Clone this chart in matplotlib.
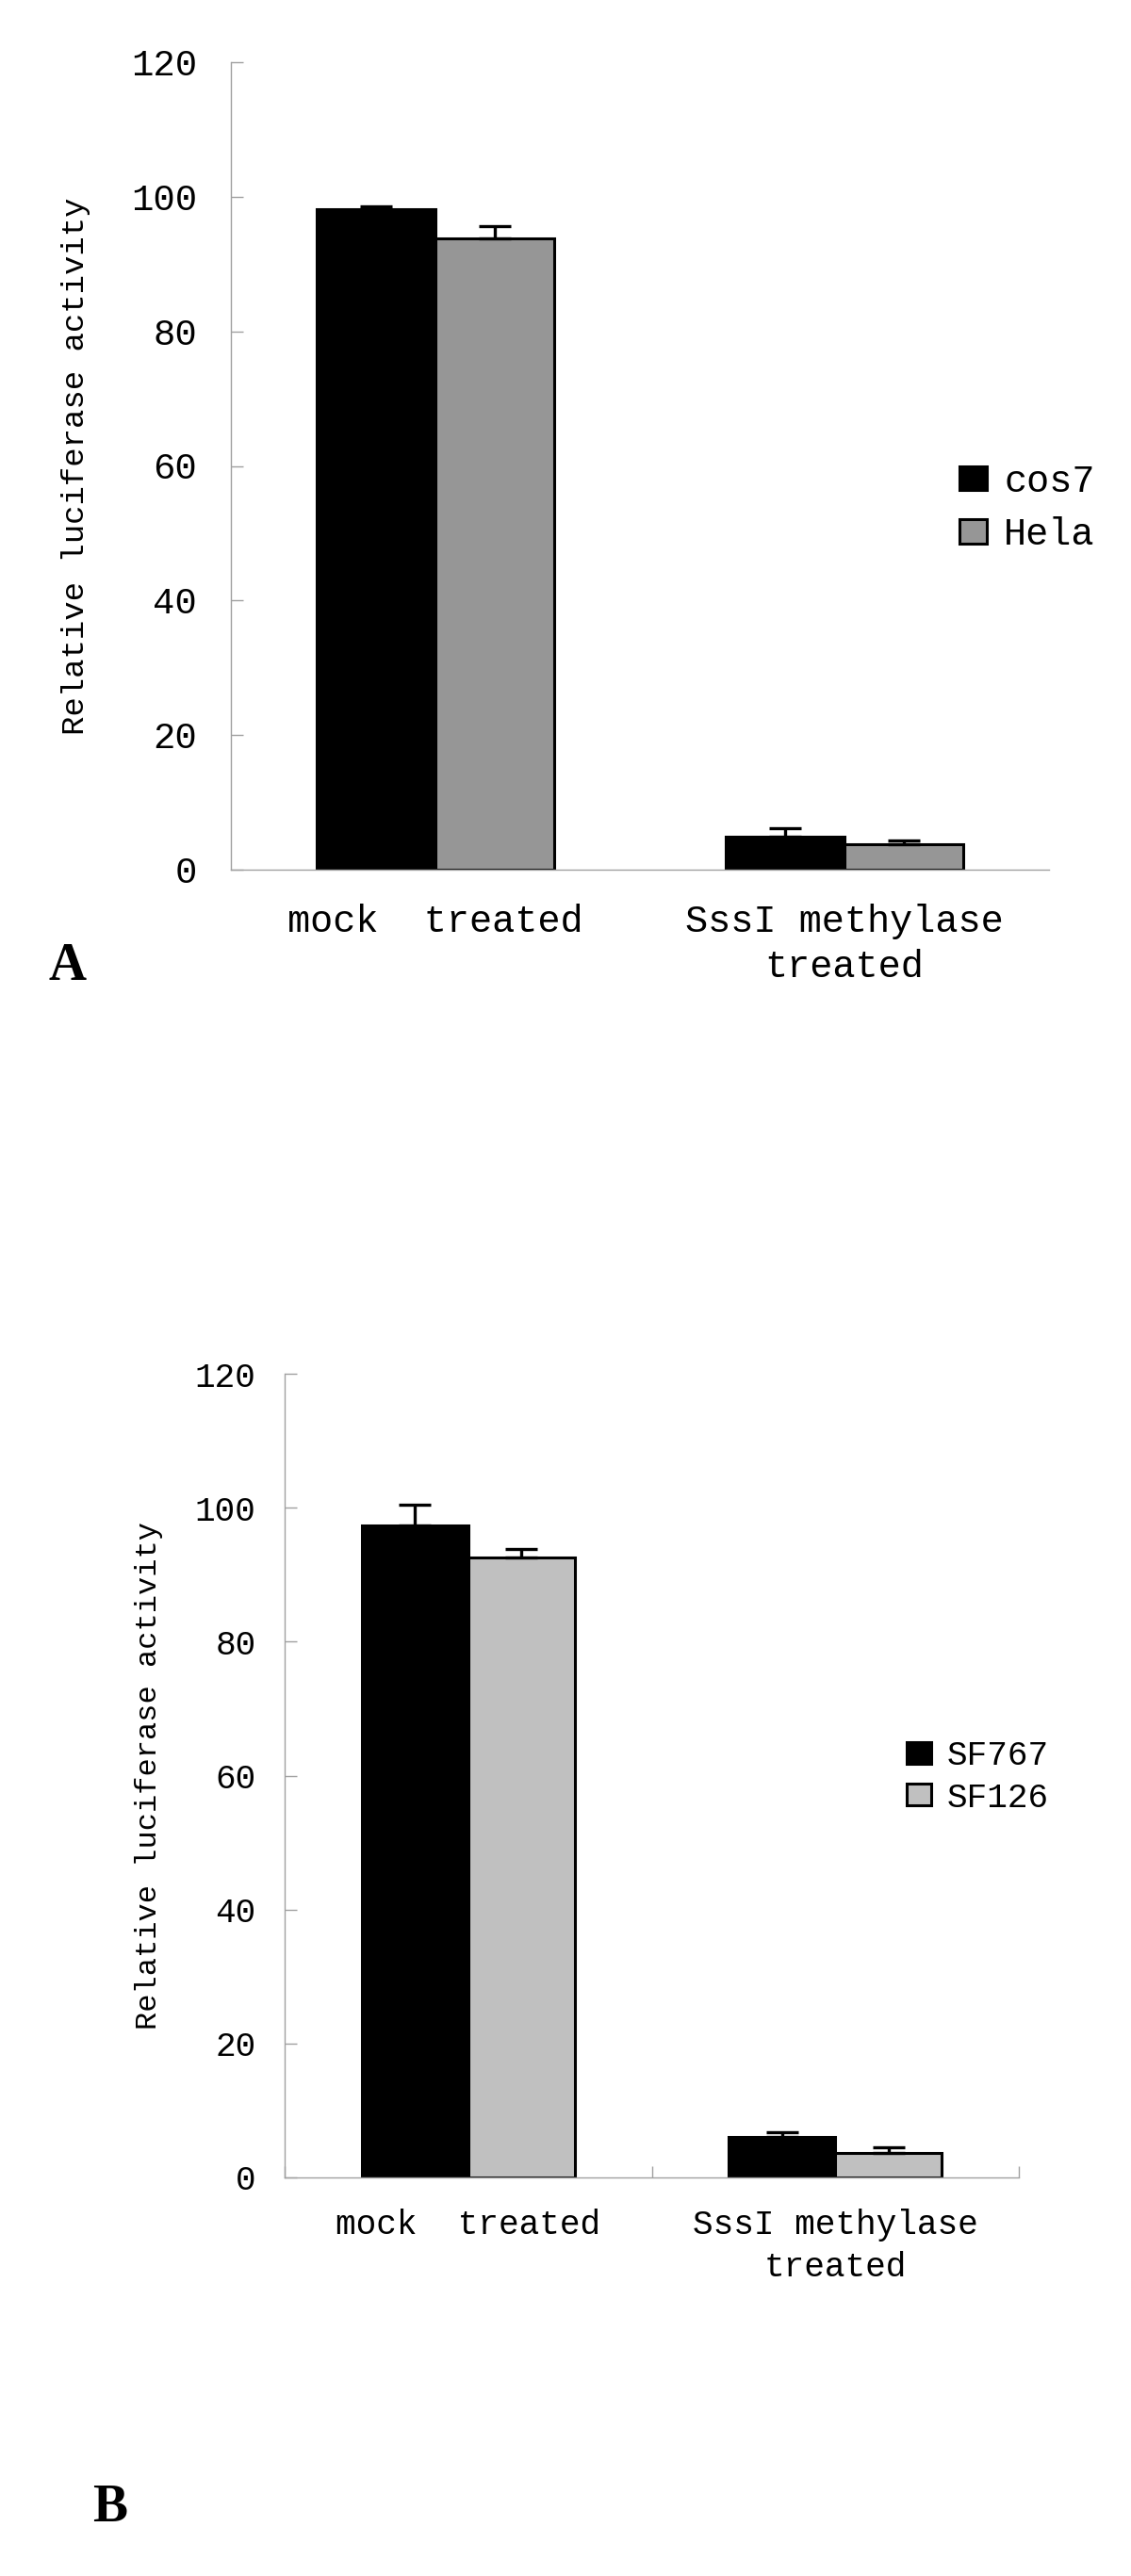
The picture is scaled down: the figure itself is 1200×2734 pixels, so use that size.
import matplotlib
matplotlib.use("Agg")
import matplotlib.pyplot as plt
import numpy as np

# ---- data ----
categories = ["mock  treated", "SssI methylase\ntreated"]
yticks = [0, 20, 40, 60, 80, 100, 120]

a_series = ["cos7", "Hela"]
a_cos7 = [98.2, 4.9]
a_cos7_err = [0.4, 1.3]
a_hela = [93.8, 3.8]
a_hela_err = [1.8, 0.5]

b_series = ["SF767", "SF126"]
b_sf767 = [97.4, 6.0]
b_sf767_err = [3.1, 0.8]
b_sf126 = [92.5, 3.6]
b_sf126_err = [1.3, 0.9]

ylabel = "Relative luciferase activity"

MONO = ["Liberation Mono", "DejaVu Sans Mono"]
SERIF = ["Liberation Serif", "DejaVu Serif"]

W, H = 1200, 2734
fig = plt.figure(figsize=(W / 100, H / 100), dpi=100)


def make_panel(rect, s1, e1, s2, e2, names, c2, fs_tick, fs_cat, fs_lab, fs_leg,
               leg_anchor, lab_x, cat_pad, tick_pad, minor_x, cat_ls, leg_ls):
    ax = fig.add_axes(rect)
    x = np.arange(len(categories))
    w = 0.29
    ax.bar(x - w / 2, s1, w, color="black", edgecolor="black", linewidth=2.2,
           label=names[0], zorder=2)
    ax.bar(x + w / 2, s2, w, color=c2, edgecolor="black", linewidth=2.2,
           label=names[1], zorder=2)
    ax.errorbar(x - w / 2, s1, yerr=[np.zeros(len(e1)), e1], fmt="none",
                ecolor="black", elinewidth=2.4, capsize=12, capthick=2.4, zorder=3)
    ax.errorbar(x + w / 2, s2, yerr=[np.zeros(len(e2)), e2], fmt="none",
                ecolor="black", elinewidth=2.4, capsize=12, capthick=2.4, zorder=3)
    ax.set_xlim(-0.5, 1.5)
    ax.set_ylim(0, 120)
    ax.set_yticks(yticks)
    ax.set_yticklabels([str(t) for t in yticks], family=MONO, fontsize=fs_tick)
    ax.set_xticks(x)
    ax.set_xticklabels(categories, family=MONO, fontsize=fs_cat, linespacing=cat_ls)
    ax.tick_params(axis="x", length=0, pad=cat_pad)
    ax.tick_params(axis="y", direction="in", length=9, width=1.0,
                   color="#a0a0a0", pad=tick_pad)
    if minor_x:
        ax.set_xticks([-0.5, 0.5, 1.5], minor=True)
        ax.tick_params(axis="x", which="minor", direction="in", length=9,
                       width=1.0, color="#a0a0a0")
    for s in ["top", "right"]:
        ax.spines[s].set_visible(False)
    for s in ["left", "bottom"]:
        ax.spines[s].set_color("#a0a0a0")
        ax.spines[s].set_linewidth(1.0)
    fig.text(lab_x, rect[1] + rect[3] / 2, ylabel, rotation=90, ha="center",
             va="center", family=MONO, fontsize=fs_lab)
    ax.legend(loc="center left", bbox_to_anchor=leg_anchor,
              bbox_transform=fig.transFigure, frameon=False,
              prop={"family": MONO, "size": fs_leg},
              handlelength=0.72, handleheight=0.6, handletextpad=0.45,
              labelspacing=leg_ls, borderpad=0, borderaxespad=0)
    return ax


def fx(px):
    return px / W


def fy(py):
    return 1 - py / H


# Panel A
rectA = [fx(245), fy(923), fx(1113 - 245), (923 - 66) / H]
make_panel(rectA, a_cos7, a_cos7_err, a_hela, a_hela_err, a_series, "#969696",
           28, 29, 24.5, 29, (fx(1018), fy(539)), fx(81), 26, 26, False, 1.32, 0.47)

# Panel B
rectB = [fx(302), fy(2311), fx(1081 - 302), (2311 - 1458) / H]
make_panel(rectB, b_sf767, b_sf767_err, b_sf126, b_sf126_err, b_series, "#c0c0c0",
           26, 26, 23, 26, (fx(962), fy(1886)), fx(158), 24, 22, True, 1.36, 0.25)

fig.text(fx(72), fy(1026), "A", family=SERIF, fontweight="bold", fontsize=40,
         ha="center", va="center")
fig.text(fx(117), fy(2662), "B", family=SERIF, fontweight="bold", fontsize=40,
         ha="center", va="center")

fig.savefig("out.png", dpi=100, facecolor="white")
